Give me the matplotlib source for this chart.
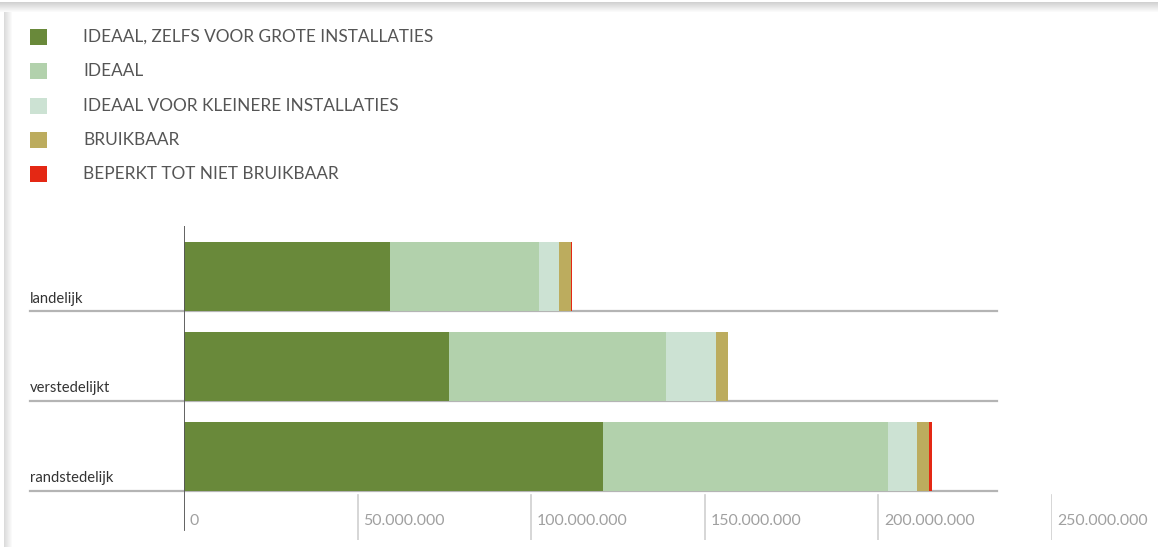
import matplotlib
matplotlib.use("Agg")
import matplotlib.pyplot as plt
from matplotlib.patches import Rectangle

plt.rcParams['font.family'] = ['Lato', 'DejaVu Sans']

# gegevens (in miljoenen)
categorieen = ["landelijk", "verstedelijkt", "randstedelijk"]
reeksen = [
    "IDEAAL, ZELFS VOOR GROTE INSTALLATIES",
    "IDEAAL",
    "IDEAAL VOOR KLEINERE INSTALLATIES",
    "BRUIKBAAR",
    "BEPERKT TOT NIET BRUIKBAAR",
]
ideaal_groot = [59.3, 76.3, 120.7]
ideaal = [42.9, 62.4, 82.1]
ideaal_klein = [5.7, 14.5, 8.2]
bruikbaar = [3.5, 3.5, 3.7]
beperkt = [0.4, 0.1, 0.8]
ticks = [0, 50, 100, 150, 200, 250]
tick_labels = ["0", "50.000.000", "100.000.000", "150.000.000", "200.000.000", "250.000.000"]

kleuren = ["#69893a", "#b2d1ac", "#cce2d3", "#bcac5e", "#e42814"]

W, H = 1163, 547
fig = plt.figure(figsize=(W / 100, H / 100), dpi=100)
fig.patch.set_facecolor("white")

# schaduw van het kader (achter alles)
for i in range(10):
    g = 0.82 + 0.018 * i
    fig.add_artist(Rectangle((0, 1 - (3 + i) / H), 1158 / W, 1 / H,
                             transform=fig.transFigure, color=(g, g, g), lw=0, zorder=-10))
for i in range(8):
    g = 0.86 + 0.017 * i
    fig.add_artist(Rectangle((4 / W + i / W, 0), 1 / W, 1 - 12 / H,
                             transform=fig.transFigure, color=(g, g, g), lw=0, zorder=-10))

# as: x=0 bij pixel 184, 250 bij pixel 1052; y van pixel 226 tot 540
x0, x1 = 184, 1052
ytop, ybot = 226, 540
ax = fig.add_axes([x0 / W, 1 - ybot / H, (x1 - x0) / W, (ybot - ytop) / H])
ax.set_xlim(0, 250)
ax.set_ylim(2.933, -0.561)
ax.axis("off")

data = [ideaal_groot, ideaal, ideaal_klein, bruikbaar, beperkt]
left = [0, 0, 0]
for vals, kleur in zip(data, kleuren):
    ax.barh(range(len(categorieen)), vals, left=left, height=0.77, color=kleur, lw=0, zorder=3)
    left = [l + v for l, v in zip(left, vals)]

# scheidingslijnen en categorielabels
for i, cat in enumerate(categorieen):
    yb = i + 0.385
    ax.axhline(yb, xmin=(30 - x0) / (x1 - x0), xmax=(997 - x0) / (x1 - x0),
               color="#b4b4b4", lw=1.6, clip_on=False, zorder=2)
    ax.text((30 - x0) / (x1 - x0) * 250, yb - 0.06, cat, ha="left", va="bottom",
            fontsize=10.6, color="#333333", clip_on=False)

# y-as lijn
ax.axvline(0, ymin=(ybot - 530) / (ybot - ytop), ymax=1, color="#555555", lw=1.3, zorder=4)

# tickmarkeringen onder
for t, lab in zip(ticks, tick_labels):
    if t > 0:
        ax.axvline(t, ymin=0, ymax=(ybot - 495) / (ybot - ytop), color="#cfcfcf", lw=1.2)
    ax.text(t + 1.6, 2.72, lab, ha="left", va="center", fontsize=11.4, color="#a0a0a0")

# legenda
for j, (naam, kleur) in enumerate(zip(reeksen, kleuren)):
    yc = 37 + j * 34.3
    fig.add_artist(Rectangle((30 / W, 1 - (yc + 8) / H), 17 / W, 16 / H,
                             transform=fig.transFigure, color=kleur, lw=0))
    fig.text(83 / W, 1 - yc / H, naam, ha="left", va="center",
             fontsize=12.4, color="#555555")

fig.savefig("out.png", dpi=100, facecolor=fig.get_facecolor())
